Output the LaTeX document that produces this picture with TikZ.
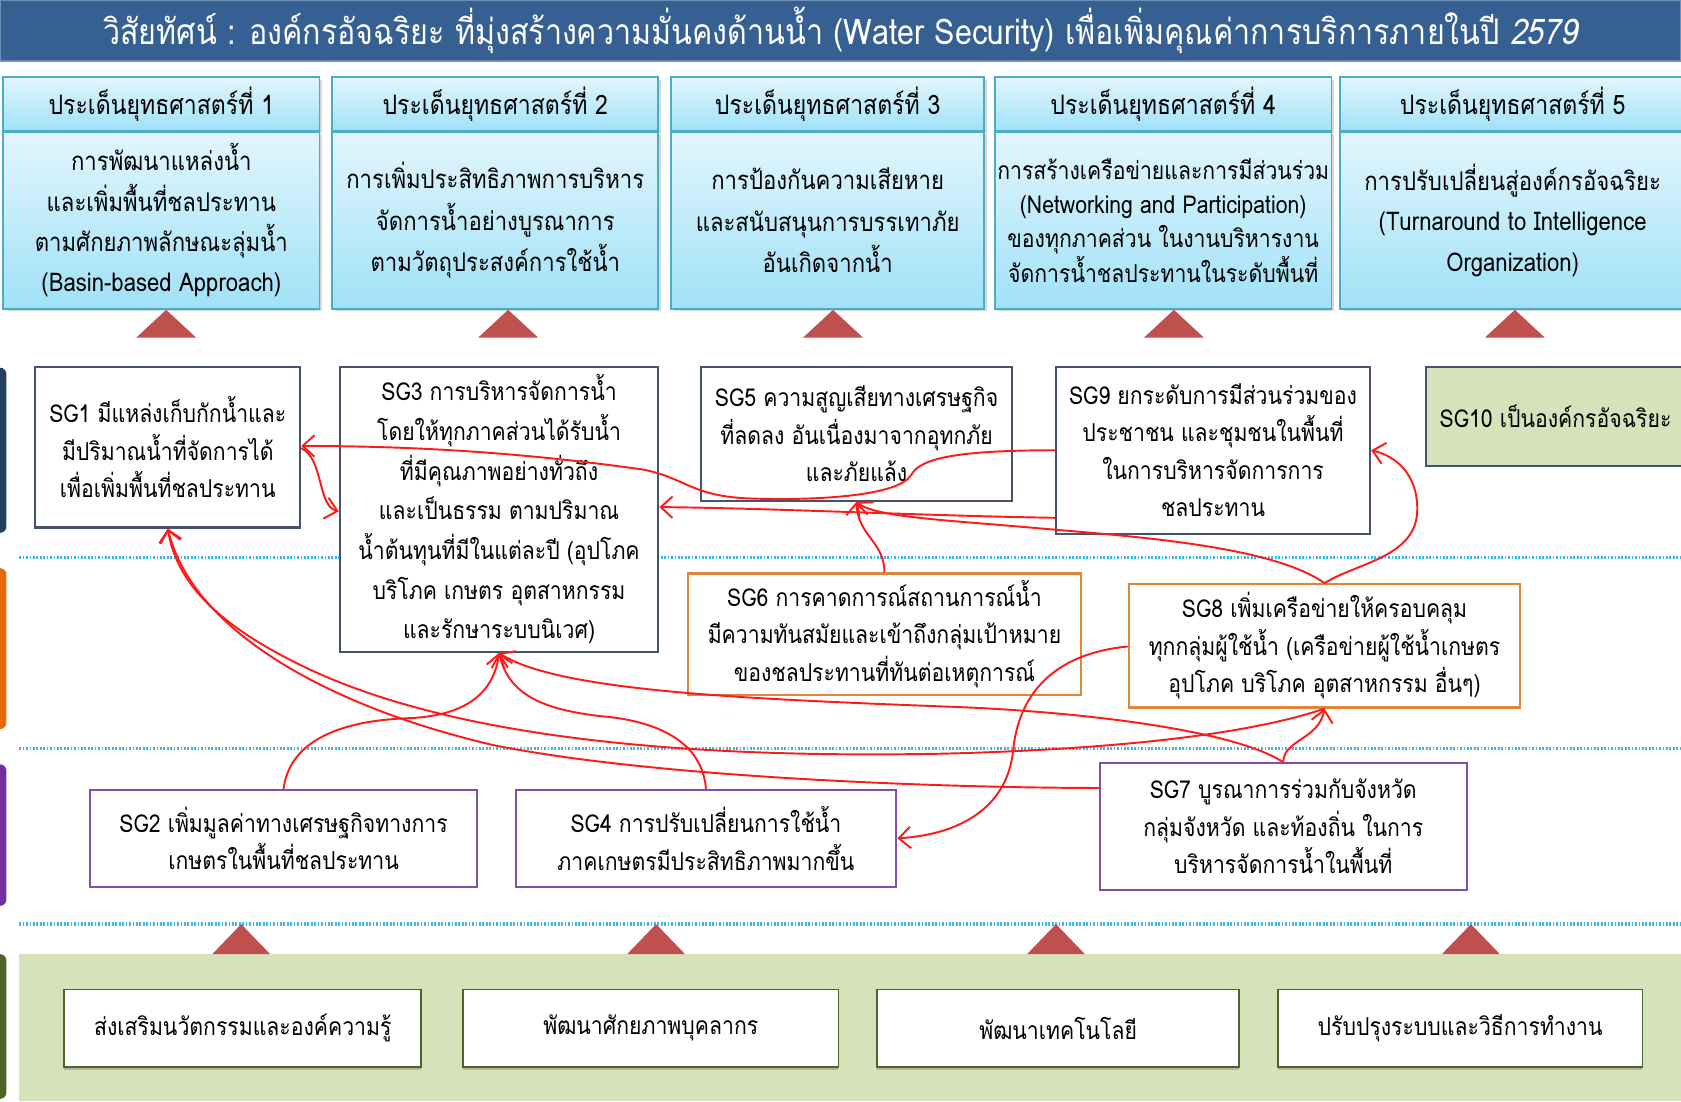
\documentclass[tikz,border=0pt]{standalone}
\usepackage{fontspec}
\setmainfont[Script=Thai,FakeStretch=0.86]{Loma}
\newfontfamily\thaiit[Script=Thai,FakeStretch=0.86,FakeSlant=0.18]{Loma}
\usetikzlibrary{arrows.meta,shadows,calc}
\definecolor{titleblue}{HTML}{366092}
\definecolor{colborder}{HTML}{4BACC6}
\definecolor{coltop}{HTML}{E2F6FD}
\definecolor{colbot}{HTML}{A0E1F7}
\definecolor{tri}{HTML}{C0504D}
\definecolor{slate}{HTML}{44546A}
\definecolor{orangeb}{HTML}{E0853A}
\definecolor{purpleb}{HTML}{7E4DB0}
\definecolor{greenbg}{HTML}{D6E3BA}
\definecolor{olive}{HTML}{4F6228}
\definecolor{dotblue}{HTML}{3DB7E9}
\definecolor{navybar}{HTML}{243F60}
\definecolor{orangebar}{HTML}{E36C09}
\definecolor{purplebar}{HTML}{7030A0}
\definecolor{arrred}{HTML}{FF1A1A}
\tikzset{
  colbox/.style={draw=colborder, line width=0.8pt, top color=coltop, bottom color=colbot,
    inner sep=0pt, align=center, drop shadow={shadow xshift=1.2pt, shadow yshift=-1.2pt, opacity=0.3}},
  sgbox/.style={draw=slate, line width=1pt, fill=white, inner sep=0pt, align=center,
    font=\fontsize{11.5}{17.5}\selectfont},
  orbox/.style={sgbox, draw=orangeb},
  pubox/.style={sgbox, draw=purpleb},
  basebox/.style={draw=olive, line width=0.8pt, fill=white, inner sep=0pt, align=center,
    font=\fontsize{11.5}{14}\selectfont, drop shadow={shadow xshift=0pt, shadow yshift=-1.3pt, opacity=0.45}},
  uptri/.style={fill=tri},
  dotline/.style={dotblue, line width=1.6pt, dash pattern=on 0.8pt off 0.8pt},
  arr/.style={draw=arrred, line width=0.9pt, -{Straight Barb[length=5.5pt,width=10pt]}},
}
\begin{document}
\begin{tikzpicture}[x=0.5pt,y=-0.5pt]
\useasboundingbox (0,0) rectangle (1568,1027);
\fill[white] (0,0) rectangle (1568,1027);

% title
\node[fill=titleblue, draw=titleblue!70!white, line width=0.6pt, minimum width=784pt, minimum height=28.5pt, inner sep=0pt,
  text=white, font=\fontsize{16.5}{18}\selectfont] (title) at (784,28.5)
  {วิสัยทัศน์ : องค์กรอัจฉริยะ ที่มุ่งสร้างความมั่นคงด้านน้ำ (Water Security) เพื่อเพิ่มคุณค่าการบริการภายในปี {\thaiit 2579}};

% strategy headers
\foreach \n/\cx/\w in {1/150.5/147.5, 2/462/152, 3/772/146, 4/1085/157, 5/1411/161}{
  \node[colbox, minimum width=\w pt, minimum height=25pt, font=\fontsize{12.5}{14}\selectfont] (h\n) at (\cx,97) {ประเด็นยุทธศาสตร์ที่ \n};
}
% strategy bodies
\node[colbox, minimum width=147.5pt, minimum height=82.5pt, font=\fontsize{12}{18.8}\selectfont] (s1) at (150.5,205.5)
  {การพัฒนาแหล่งน้ำ\\และเพิ่มพื้นที่ชลประทาน\\ตามศักยภาพลักษณะลุ่มน้ำ\\(Basin-based Approach)};
\node[colbox, minimum width=152pt, minimum height=82.5pt, font=\fontsize{12}{19.5}\selectfont] (s2) at (462,205.5)
  {การเพิ่มประสิทธิภาพการบริหาร\\จัดการน้ำอย่างบูรณาการ\\ตามวัตถุประสงค์การใช้น้ำ};
\node[colbox, minimum width=146pt, minimum height=82.5pt, font=\fontsize{12}{19.5}\selectfont] (s3) at (772,205.5)
  {การป้องกันความเสียหาย\\และสนับสนุนการบรรเทาภัย\\อันเกิดจากน้ำ};
\node[colbox, minimum width=157pt, minimum height=82.5pt, font=\fontsize{11.5}{16}\selectfont] (s4) at (1085,205.5)
  {การสร้างเครือข่ายและการมีส่วนร่วม\\(Networking and Participation)\\ของทุกภาคส่วน ในงานบริหารงาน\\จัดการน้ำชลประทานในระดับพื้นที่};
\node[colbox, minimum width=161pt, minimum height=82.5pt, font=\fontsize{12}{18.8}\selectfont] (s5) at (1411,205.5)
  {การปรับเปลี่ยนสู่องค์กรอัจฉริยะ\\(Turnaround to Intelligence\\Organization)};

% top triangles
\foreach \cx in {155,474,777,1095,1413}{
  \fill[uptri] (\cx-28,315) -- (\cx,289) -- (\cx+28,315) -- cycle;
}

% left colour bars
\fill[navybar, rounded corners=3pt] (-12,343) rectangle (6,497);
\fill[orangebar, rounded corners=3pt] (-12,530) rectangle (6,680);
\fill[purplebar, rounded corners=3pt] (-12,713) rectangle (6,845);
\fill[olive, rounded corners=3pt] (-12,890) rectangle (6,1025);

% dotted separators
\draw[dotline] (18,520) -- (1568,520);
\draw[dotline] (18,698) -- (1568,698);
\draw[dotline] (18,862) -- (1568,862);

% green base
\fill[greenbg] (18,890) rectangle (1568,1027);
\foreach \cx in {225,612,985,1372}{
  \fill[uptri] (\cx-27,890) -- (\cx,862) -- (\cx+27,890) -- cycle;
}
\node[basebox, minimum width=166.5pt, minimum height=36pt] (b1) at (226.5,959) {ส่งเสริมนวัตกรรมและองค์ความรู้};
\node[basebox, minimum width=175pt, minimum height=36pt] (b2) at (607,959) {พัฒนาศักยภาพบุคลากร};
\node[basebox, minimum width=169pt, minimum height=36pt] (b3) at (987,959) {พัฒนาเทคโนโลยี};
\node[basebox, minimum width=170pt, minimum height=36pt] (b4) at (1362,959) {ปรับปรุงระบบและวิธีการทำงาน};

% SG boxes
\node[sgbox, minimum width=123.5pt, minimum height=75pt] (sg1) at (156.5,417)
  {SG1 มีแหล่งเก็บกักน้ำและ\\มีปริมาณน้ำที่จัดการได้\\เพื่อเพิ่มพื้นที่ชลประทาน};
\node[sgbox, minimum width=148.5pt, minimum height=133pt, font=\fontsize{11.5}{18.5}\selectfont] (sg3) at (465.5,475)
  {SG3 การบริหารจัดการน้ำ\\โดยให้ทุกภาคส่วนได้รับน้ำ\\ที่มีคุณภาพอย่างทั่วถึง\\และเป็นธรรม ตามปริมาณ\\น้ำต้นทุนที่มีในแต่ละปี (อุปโภค\\บริโภค เกษตร อุตสาหกรรม\\และรักษาระบบนิเวศ)};
\node[sgbox, minimum width=145pt, minimum height=62.5pt] (sg5) at (799,404.5)
  {SG5 ความสูญเสียทางเศรษฐกิจ\\ที่ลดลง อันเนื่องมาจากอุทกภัย\\และภัยแล้ง};
\node[sgbox, minimum width=146.5pt, minimum height=78pt] (sg9) at (1131.5,420)
  {SG9 ยกระดับการมีส่วนร่วมของ\\ประชาชน และชุมชนในพื้นที่\\ในการบริหารจัดการการ\\ชลประทาน};
\node[sgbox, fill=greenbg, minimum width=121pt, minimum height=46.5pt] (sg10) at (1451,388.5)
  {SG10 เป็นองค์กรอัจฉริยะ};
\node[orbox, minimum width=183pt, minimum height=56.5pt] (sg6) at (825,591.5)
  {SG6 การคาดการณ์สถานการณ์น้ำ\\มีความทันสมัยและเข้าถึงกลุ่มเป้าหมาย\\ของชลประทานที่ทันต่อเหตุการณ์};
\node[orbox, minimum width=182.5pt, minimum height=57.5pt] (sg8) at (1235.5,602.5)
  {SG8 เพิ่มเครือข่ายให้ครอบคลุม\\ทุกกลุ่มผู้ใช้น้ำ (เครือข่ายผู้ใช้น้ำเกษตร\\อุปโภค บริโภค อุตสาหกรรม อื่นๆ)};
\node[pubox, minimum width=180.5pt, minimum height=45pt] (sg2) at (264.5,782)
  {SG2 เพิ่มมูลค่าทางเศรษฐกิจทางการ\\เกษตรในพื้นที่ชลประทาน};
\node[pubox, minimum width=177.5pt, minimum height=45pt] (sg4) at (658.5,782)
  {SG4 การปรับเปลี่ยนการใช้น้ำ\\ภาคเกษตรมีประสิทธิภาพมากขึ้น};
\node[pubox, minimum width=171pt, minimum height=59pt] (sg7) at (1197,771)
  {SG7 บูรณาการร่วมกับจังหวัด\\กลุ่มจังหวัด และท้องถิ่น ในการ\\บริหารจัดการน้ำในพื้นที่};

% connectors
\draw[arr] (sg9.west |- 0,420) .. controls (890,420) and (858,428) .. (850,443)
  .. controls (838,463) and (760,467) .. (700,465)
  .. controls (645,463) and (640,446) .. (600,438)
  .. controls (500,424) and (400,416) .. (sg1.east |- 0,416);
\draw[arr] (sg9.west |- 0,483) .. controls (860,481) and (720,474) .. (sg3.east |- 0,473);
\draw[arr] (sg1.east |- 0,418) .. controls (302,428) and (296,472) .. (sg3.west |- 0,477);
\draw[arr] (sg6.north) .. controls (825,505) and (800,500) .. (sg5.south);
\draw[arr] (sg8.north) .. controls (1185,508) and (1050,500) .. (960,492)
  .. controls (880,485) and (815,482) .. (sg5.south);
\draw[arr] (sg8.north) .. controls (1265,525) and (1322,520) .. (1322,475)
  .. controls (1322,440) and (1300,425) .. (sg9.east |- 0,420);
\draw[arr] (sg8.west |- 0,603) .. controls (980,610) and (950,650) .. (945,700)
  .. controls (940,750) and (900,778) .. (sg4.east |- 0,782);
\draw[arr] (sg7.north) .. controls (1197,690) and (1230,690) .. (sg8.south);
\draw[arr] (sg8.south) .. controls (1150,690) and (1000,700) .. (880,703)
  .. controls (620,708) and (420,685) .. (290,625)
  .. controls (205,585) and (165,545) .. (sg1.south);
\draw[arr] (sg7.west |- 0,735) .. controls (900,735) and (620,727) .. (460,695)
  .. controls (310,660) and (180,590) .. (sg1.south);
\draw[arr] (sg7.north) .. controls (1150,680) and (1000,663) .. (880,659)
  .. controls (700,652) and (520,645) .. (sg3.south);
\draw[arr] (sg2.north) .. controls (270,690) and (320,672) .. (380,670)
  .. controls (430,668) and (460,650) .. (sg3.south);
\draw[arr] (sg4.north) .. controls (655,690) and (610,672) .. (560,668)
  .. controls (510,662) and (475,650) .. (sg3.south);
\end{tikzpicture}
\end{document}
